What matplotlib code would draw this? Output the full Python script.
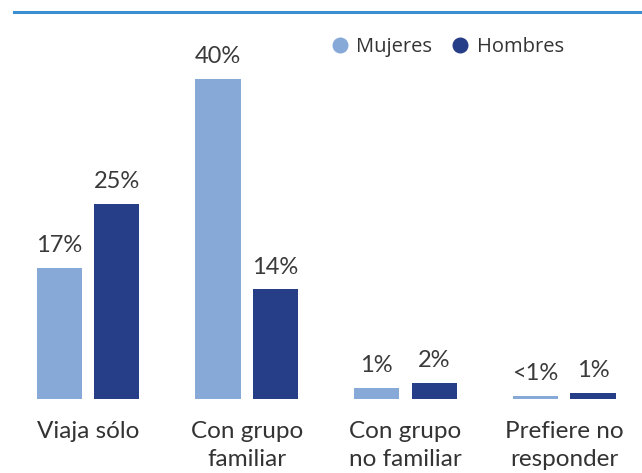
import matplotlib.pyplot as plt
from matplotlib.lines import Line2D
import numpy as np

# data
categories = ['Viaja sólo', 'Con grupo\nfamiliar', 'Con grupo\nno familiar', 'Prefiere no\nresponder']
mujeres = [16.4, 40.0, 1.4, 0.4]
hombres = [24.4, 13.7, 2.0, 0.8]
mujeres_labels = ['17%', '40%', '1%', '<1%']
hombres_labels = ['25%', '14%', '2%', '1%']

c_muj = '#86a9d8'
c_hom = '#263d87'
c_txt = '#333333'

fig = plt.figure(figsize=(6.42, 4.73), dpi=100)
ax = fig.add_axes([0, 74 / 473, 1, 399 / 473])

x = np.arange(len(categories))
w = 0.285
off = 0.181
b1 = ax.bar(x - off, mujeres, w, color=c_muj)
b2 = ax.bar(x + off, hombres, w, color=c_hom)

for bars, labs in ((b1, mujeres_labels), (b2, hombres_labels)):
    for b, lab in zip(bars, labs):
        ax.annotate(lab, (b.get_x() + b.get_width() / 2, b.get_height()),
                    xytext=(0, 8.5), textcoords='offset points',
                    ha='center', va='bottom', fontsize=17,
                    family='Lato', color='#3a3a3a')

ax.set_xlim(-0.554, 3.489)
ax.set_ylim(0, 399 / 8)
ax.set_axis_off()

# category labels below the bars
for xi, cat in zip(x, categories):
    ax.annotate(cat, (xi, 0), xytext=(0, -16), textcoords='offset points',
                ha='center', va='top', fontsize=17.5, family='Lato',
                color=c_txt, linespacing=1.42)

# top rule
fig.add_artist(Line2D([14 / 642, 1], [1 - 12 / 473, 1 - 12 / 473],
                      color='#3b8fd0', lw=2.2))

handles = [Line2D([], [], marker='o', ls='none', ms=10.5, color=c_muj),
           Line2D([], [], marker='o', ls='none', ms=10.5, color=c_hom)]
fig.legend(handles, ['Mujeres', 'Hombres'], loc='center left',
           bbox_to_anchor=(320 / 642, 1 - 47 / 473), ncol=2, frameon=False,
           prop={'family': 'Open Sans', 'size': 14.5}, handlelength=1.0,
           handletextpad=0.3, columnspacing=0.9, borderpad=0,
           labelcolor=c_txt)

fig.savefig('out.png', dpi=100)
